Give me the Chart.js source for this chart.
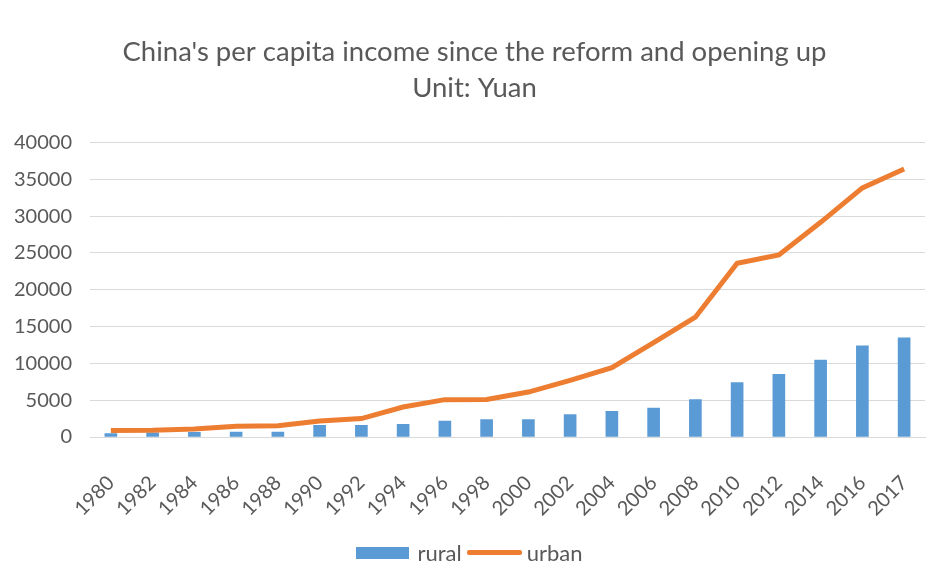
<!DOCTYPE html>
<html>
<head>
<meta charset="utf-8">
<script src="https://cdn.jsdelivr.net/npm/chart.js@4.4.0/dist/chart.umd.min.js"></script>
<style>
    html, body { margin: 0; padding: 0; background: #fff; }
    #wrap { position: relative; width: 939px; height: 581px; }
    #legend {
        position: absolute; left: 0; right: 0; top: 539px;
        display: flex; justify-content: center; align-items: center;
        font-family: Lato, sans-serif; font-size: 22px; color: #595959;
    }
    #legend .box { width: 53px; height: 12px; background: #5B9BD5; margin-right: 8px; }
    #legend .line { width: 55px; height: 5px; background: #ED7D31; margin: 0 5px; border-radius: 2px; }
</style>
</head>
<body>
<div id="wrap">
    <canvas id="incomeChart" width="939" height="581"></canvas>
    <div id="legend"><span class="box"></span><span>rural</span><span class="line"></span><span>urban</span></div>
</div>
<script>
// Years on the category axis
const years = ['1980', '1982', '1984', '1986', '1988', '1990', '1992', '1994', '1996', '1998',
    '2000', '2002', '2004', '2006', '2008', '2010', '2012', '2014', '2016', '2017'];

// Per capita income, yuan
const rural = [480, 560, 640, 680, 680, 1590, 1590, 1720, 2170, 2360,
    2360, 3040, 3490, 3930, 5070, 7380, 8500, 10440, 12390, 13480];
const urban = [880, 900, 1090, 1450, 1540, 2170, 2500, 4070, 5070, 5100,
    6100, 7690, 9410, 12800, 16270, 23590, 24730, 29150, 33820, 36400];

const yTicks = [0, 5000, 10000, 15000, 20000, 25000, 30000, 35000, 40000];

const textColor = '#595959';
const fontFamily = 'Lato, sans-serif';

new Chart(document.getElementById('incomeChart'), {
    data: {
        labels: years,
        datasets: [
            {
                type: 'line',
                label: 'urban',
                data: urban,
                borderColor: '#ED7D31',
                backgroundColor: '#ED7D31',
                borderWidth: 5,
                pointRadius: 0,
                tension: 0,
                order: 0
            },
            {
                type: 'bar',
                label: 'rural',
                data: rural,
                backgroundColor: '#5B9BD5',
                barThickness: 12,
                order: 1
            }
        ]
    },
    options: {
        responsive: false,
        animation: false,
        layout: { padding: { left: 10, right: 0, top: 0, bottom: 0 } },
        plugins: {
            legend: { display: false },
            tooltip: { enabled: false },
            title: {
                display: true,
                text: ["China's per capita income since the reform and opening up", 'Unit: Yuan'],
                color: textColor,
                font: { family: fontFamily, size: 27.5, weight: 'normal', lineHeight: 1.28 },
                padding: { top: 35, bottom: 37 }
            }
        },
        scales: {
            x: {
                grid: { display: false },
                border: { color: '#d9d9d9' },
                ticks: {
                    color: textColor,
                    font: { family: fontFamily, size: 20 },
                    maxRotation: 45,
                    minRotation: 45,
                    autoSkip: false,
                    padding: 26
                },
                afterFit: scale => {
                    // keep the rotated end labels from squeezing the plot
                    scale.height = 144;
                    scale.paddingLeft = 0;
                    scale.paddingRight = 14;
                }
            },
            y: {
                min: 0,
                max: 40000,
                afterBuildTicks: scale => { scale.ticks = yTicks.map(v => ({ value: v })); },
                grid: { color: '#d9d9d9', drawTicks: false },
                border: { display: false },
                ticks: {
                    color: textColor,
                    font: { family: fontFamily, size: 20 },
                    padding: 18,
                    callback: v => String(v)
                },
                afterFit: scale => { scale.width = 80; }
            }
        }
    }
});
</script>
</body>
</html>
